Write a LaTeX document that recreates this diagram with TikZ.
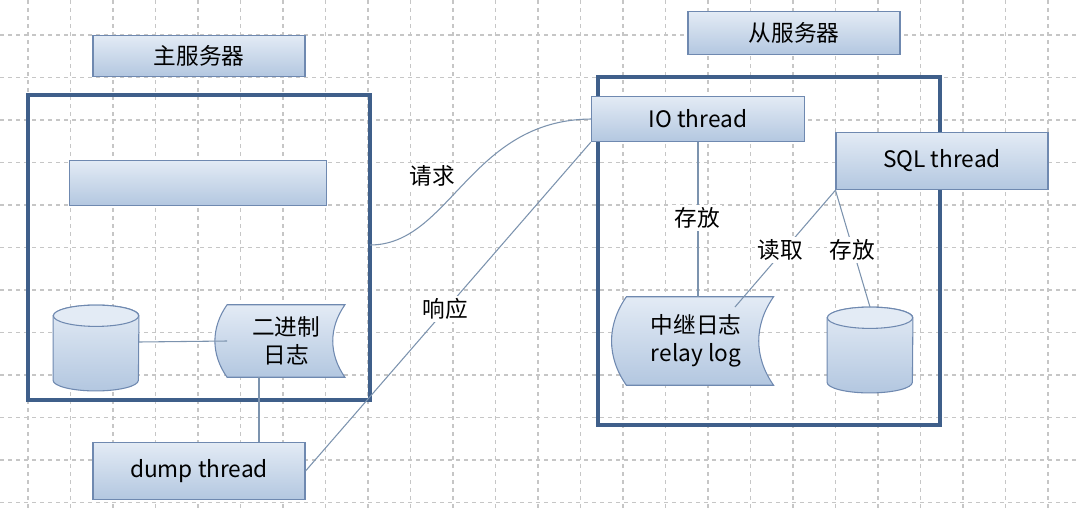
\documentclass[tikz,border=0pt]{standalone}
\usepackage{fontspec}
\setmainfont{Noto Sans CJK SC}
\usetikzlibrary{positioning}
\definecolor{frameblue}{HTML}{3F5F8A}
\definecolor{edgeblue}{HTML}{6F89B0}
\definecolor{lightblue}{HTML}{E3EBF5}
\definecolor{midblue}{HTML}{B3C7E0}
\definecolor{linkgray}{HTML}{7C93AE}
\tikzset{
  box/.style = {draw = edgeblue, thick, top color = lightblue, bottom color = midblue,
                inner sep = 0pt, font = \fontsize{17}{18}\selectfont},
  frame/.style = {draw = frameblue, line width = 3pt},
  link/.style = {draw = linkgray, thick},
  lbl/.style = {fill = white, inner sep = 2pt, font = \fontsize{17}{18}\selectfont}
}
% disk: name, centre x, centre y
\newcommand{\diskshape}[3]{
  \node [minimum width = 64pt, minimum height = 48pt, inner sep = 0pt] (#1) at (#2, #3) {};
  \path [box] (#1.north west) -- (#1.south west) arc [start angle = 180, end angle = 360,
    x radius = 32pt, y radius = 8pt] -- (#1.north east) arc [start angle = 0, end angle = 180,
    x radius = 32pt, y radius = 8pt] -- cycle;
  \draw [edgeblue, thick, fill = lightblue] (#1.north) ellipse [x radius = 32pt, y radius = 8pt];
}
\begin{document}
\begin{tikzpicture}[x = 0.75pt, y = -0.75pt]
\useasboundingbox (0, 0) rectangle (1079, 508);
%\draw [help lines] grid
\foreach \gx in {0, ..., 24} \draw [gray!45, dashed, thick] (28 + 42.5*\gx, 0) -- (28 + 42.5*\gx, 508);
\foreach \gy in {0, ..., 11} \draw [gray!45, dashed, thick] (0, 35 + 42.5*\gy) -- (1079, 35 + 42.5*\gy);
% master
\node [box, minimum width = 159pt, minimum height = 31pt] (mtitle) at (199, 56) {主服务器};
\draw [frame] (28, 95) rectangle (370, 400);
\node [box, minimum width = 193pt, minimum height = 34pt] (bar) at (198, 183) {};
\diskshape{mdb}{96}{348}
\node [minimum width = 88pt, minimum height = 54pt, inner sep = 0pt] (binlog) at (286, 341) {};
\path [box] (binlog.north west) to [bend right = 35] (binlog.south west)
  -- (binlog.south east) to [bend left = 35] (binlog.north east) -- cycle;
\node [align = center, font = \fontsize{17}{21}\selectfont] at (binlog) {二进制\\日志};
\node [box, minimum width = 159pt, minimum height = 43pt] (dump) at (199, 471) {dump thread};
\draw [link] (mdb.east) ++ (0, -6) -- (binlog.west);
\draw [link] (binlog.south) ++ (-27, 0) coordinate (bl) -- (bl |- dump.north);
% slave
\node [box, minimum width = 159pt, minimum height = 32pt] (stitle) at (794, 33) {从服务器};
\draw [frame] (598, 77) rectangle (940, 425);
\node [box, minimum width = 160pt, minimum height = 34pt] (io) at (698, 119) {IO thread};
\node [box, minimum width = 159pt, minimum height = 43pt] (sql) at (942, 161) {SQL thread};
\node [minimum width = 110pt, minimum height = 66pt, inner sep = 0pt] (relay) at (700, 341) {};
\path [box] (relay.north west) to [bend right = 35] (relay.south west)
  -- (relay.south east) to [bend left = 35] (relay.north east) -- cycle;
\node [align = center, font = \fontsize{17}{21}\selectfont] at ([xshift = -3pt] relay) {中继日志\\relay log};
\diskshape{sdb}{870}{350}
% links
\draw [link] (370, 245) .. controls (450, 245) and (470, 120) .. (io.west);
\node [lbl] at (432, 176) {请求};
\draw [link] (dump.east) -- (io.south west);
\node [lbl] at (445, 309) {响应};
\draw [link] (io.south) -- (io.south |- relay.north);
\node [lbl] at (697, 218) {存放};
\draw [link] (sql.south west) -- (735, 307);
\node [lbl] at (780, 250) {读取};
\draw [link] (sql.south west) -- ([yshift = 8pt] sdb.north);
\node [lbl] at (852, 250) {存放};
\end{tikzpicture}
\end{document}
